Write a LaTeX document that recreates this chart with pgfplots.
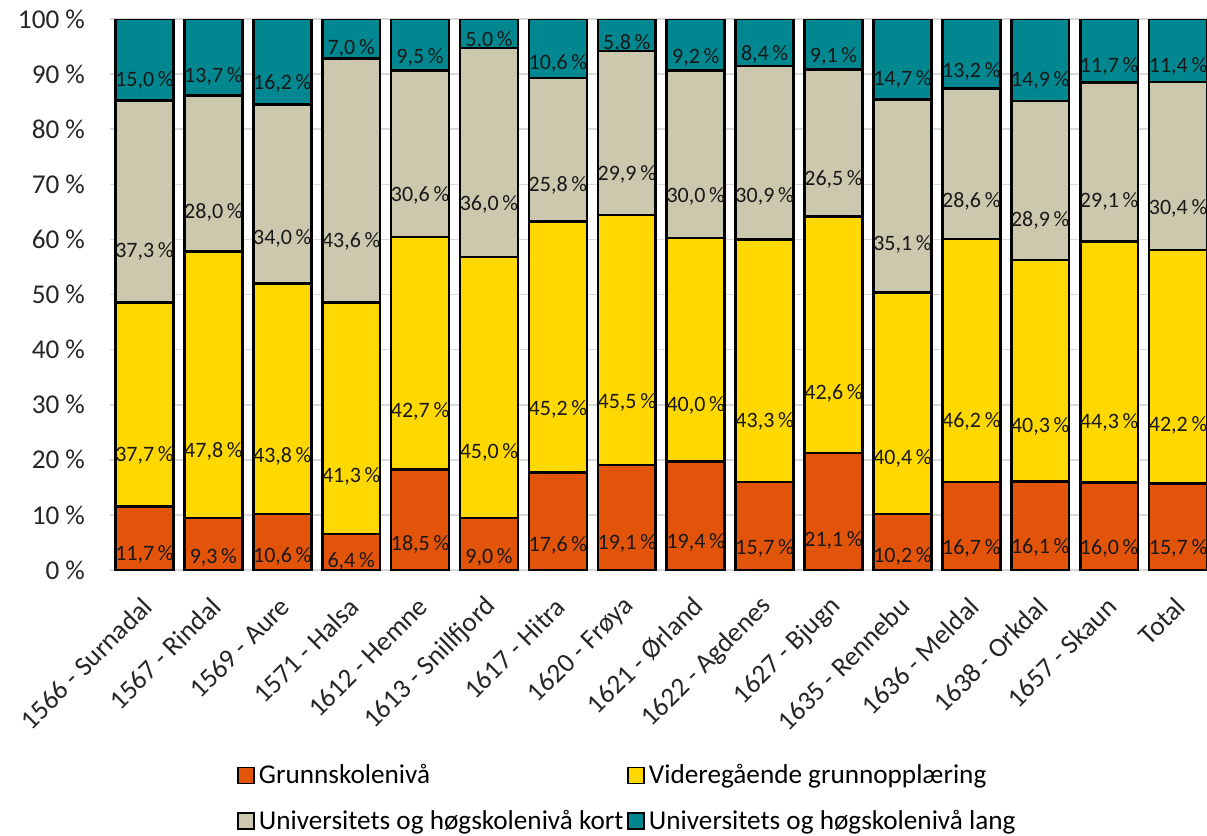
\documentclass[border=0pt]{standalone}
\usepackage{fontspec}
\setmainfont{Carlito}
\usepackage{pgfplots}
\pgfplotsset{compat=1.18}
\usepackage{pgfplotstable}

\definecolor{cg}{HTML}{E2540A}
\definecolor{cv}{HTML}{FFD800}
\definecolor{ck}{HTML}{CCC8AE}
\definecolor{cl}{HTML}{00878F}

% normalised shares (plotted) and the printed label values
\pgfplotstableread{
x g v k l gl vl kl ll
0 11.50 37.07 36.68 14.75 11,7 37,7 37,3 15,0
1 9.41 48.38 28.34 13.87 9,3 47,8 28,0 13,7
2 10.13 41.87 32.50 15.50 10,6 43,8 34,0 16,2
3 6.51 42.01 44.35 7.13 6,4 41,3 43,6 7,0
4 18.26 42.15 30.21 9.38 18,5 42,7 30,6 9,5
5 9.47 47.37 37.89 5.27 9,0 45,0 36,0 5,0
6 17.74 45.56 26.01 10.69 17,6 45,2 25,8 10,6
7 19.04 45.36 29.81 5.79 19,1 45,5 29,9 5,8
8 19.68 40.57 30.43 9.32 19,4 40,0 30,0 9,2
9 15.97 44.05 31.43 8.55 15,7 43,3 30,9 8,4
10 21.25 42.90 26.69 9.16 21,1 42,6 26,5 9,1
11 10.16 40.24 34.96 14.64 10,2 40,4 35,1 14,7
12 15.95 44.13 27.32 12.60 16,7 46,2 28,6 13,2
13 16.07 40.22 28.84 14.87 16,1 40,3 28,9 14,9
14 15.83 43.82 28.78 11.57 16,0 44,3 29,1 11,7
15 15.75 42.33 30.49 11.43 15,7 42,2 30,4 11,4
}\data

\begin{document}
\begin{tikzpicture}
\begin{axis}[
  name=ax,
  scale only axis, width=548.5pt, height=275.5pt,
  ybar stacked, bar width=0.84,
  xmin=-0.5, xmax=15.42, ymin=0, ymax=100,
  xtick={0,...,15},
  xticklabels={1566 - Surnadal, 1567 - Rindal, 1569 - Aure, 1571 - Halsa, 1612 - Hemne, 1613 - Snillfjord, 1617 - Hitra, 1620 - Frøya, 1621 - Ørland, 1622 - Agdenes, 1627 - Bjugn, 1635 - Rennebu, 1636 - Meldal, 1638 - Orkdal, 1657 - Skaun, Total},
  ytick={0,10,...,100},
  yticklabels={0 \%,10 \%,20 \%,30 \%,40 \%,50 \%,60 \%,70 \%,80 \%,90 \%,100 \%},
  major tick length=0pt,
  axis line style={draw=none},
  ymajorgrids, grid style={draw=black!15, line width=0.8pt},
  tick label style={font=\fontsize{13.6}{16}\selectfont, color=black!85},
  yticklabel style={anchor=east, xshift=-9pt},
  xticklabel style={xshift=1.5pt, yshift=-16pt, rotate=45, anchor=east, inner sep=0pt},
  every axis plot/.append style={draw=black, line width=1.3pt},
  point meta=explicit symbolic,
  nodes near coords={\pgfplotspointmeta\,\%},
  every node near coord/.append style={anchor=center, color=black!90, font=\fontsize{11}{13}\selectfont, inner sep=0pt, yshift={-0.68875pt*(\segh)}},
  legend columns=2,
  legend cell align=left,
  legend style={at={(0.1158,-0.345)}, anchor=north west, draw=none, fill=none, inner sep=0pt,
    font=\fontsize{13.6}{16}\selectfont, row sep=7.5pt,
    /tikz/every even column/.append style={column sep=0pt}},
  legend image code/.code={\draw[#1, line width=0.75pt] (0pt,-4pt) rectangle (8pt,4pt);},
]
\addplot[fill=cg, visualization depends on={\thisrow{g} \as \segh}] table[x=x, y=g, meta=gl] {\data};
\addplot[fill=cv, visualization depends on={\thisrow{v} \as \segh}] table[x=x, y=v, meta=vl] {\data};
\addplot[fill=ck, visualization depends on={\thisrow{k} \as \segh}] table[x=x, y=k, meta=kl] {\data};
\addplot[fill=cl, visualization depends on={\thisrow{l} \as \segh}] table[x=x, y=l, meta=ll] {\data};
\legend{Grunnskolenivå, Videregående grunnopplæring, Universitets og høgskolenivå kort, Universitets og høgskolenivå lang}
\end{axis}
\pgfresetboundingbox
\path[use as bounding box] ([xshift=-55pt,yshift=-133pt]ax.south west) rectangle ([yshift=9.5pt]ax.north east);
\end{tikzpicture}
\end{document}
